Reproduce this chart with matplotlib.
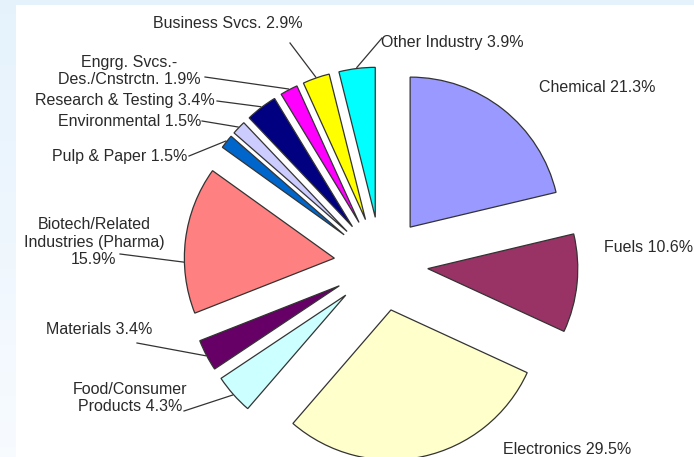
import numpy as np
import matplotlib
matplotlib.use("Agg")
import matplotlib.pyplot as plt
from matplotlib.patches import Rectangle

W, H = 694, 457

# industry shares (%), clockwise from 12 o'clock
sectors = ["Chemical", "Fuels", "Electronics", "Food/Consumer\nProducts", "Materials",
           "Biotech/Related\nIndustries (Pharma)\n", "Pulp & Paper", "Environmental",
           "Research & Testing", "Engrg. Svcs.-\nDes./Cnstrctn.", "Business Svcs.", "Other Industry"]
shares = [21.3, 10.6, 29.5, 4.3, 3.4, 15.9, 1.5, 1.5, 3.4, 1.9, 2.9, 3.9]
colors = ["#9999FF", "#993366", "#FFFFCC", "#CCFFFF", "#660066", "#FF8080",
          "#0066CC", "#CCCCFF", "#000080", "#FF00FF", "#FFFF00", "#00FFFF"]

# label placement in pixels (x, y from top); leader start or None
label_pos = [(597, 87), (649, 248), (567, 450), (130, 398), (99, 330), (94, 242),
             (120, 157), (130, 121), (125, 100), (129, 71), (228, 23), (452, 43)]
leader_from = [None, None, None, (184, 411), (137, 343), (120, 254),
               (189, 156), (202, 121), (217, 101), (205, 77), (290, 43), (382, 38)]
# where along the wedge's arc the leader lands (0..1 between theta1 and theta2)
leader_at = [0.5, 0.5, 0.5, 0.5, 0.5, 0.65, 0.5, 0.5, 0.5, 0.5, 0.5, 0.5]

plt.rcParams["font.family"] = ["Liberation Sans", "DejaVu Sans"]

fig = plt.figure(figsize=(W / 100, H / 100), dpi=100)

# pale blue backdrop with a white chart area
bg = fig.add_axes([0, 0, 1, 1])
grad = np.linspace(0, 1, 256).reshape(-1, 1)
c_top = np.array([0.90, 0.95, 0.99])
c_bot = np.array([0.97, 0.985, 1.0])
img = c_top[None, None, :] * (1 - grad[:, :, None]) + c_bot[None, None, :] * grad[:, :, None]
bg.imshow(img, aspect="auto", extent=[0, 1, 0, 1])
bg.add_patch(Rectangle((16 / W, 0), 1 - 16 / W, (H - 5) / H, facecolor="white",
                       edgecolor="none"))
bg.set_xlim(0, 1)
bg.set_ylim(0, 1)
bg.axis("off")

ax = fig.add_axes([0, 0, 1, 1])
ax.patch.set_alpha(0)
R = 150
# explode is an absolute offset in data units here
wedges, _ = ax.pie(shares, colors=colors, explode=[47] * len(shares),
                   startangle=90, counterclock=False, center=(381, H - 264), radius=R,
                   wedgeprops=dict(edgecolor="#333333", linewidth=0.9), frame=False)
ax.set_xlim(0, W)
ax.set_ylim(0, H)
ax.set_aspect("auto")
ax.axis("off")

for w, name, val, pos, src, frac in zip(wedges, sectors, shares, label_pos,
                                        leader_from, leader_at):
    if name.endswith("\n"):
        txt = f"{name}{val}%"
    else:
        txt = f"{name} {val}%"
    ax.text(pos[0], H - pos[1], txt, ha="center", va="center", fontsize=11.5,
            color="#2a2a2a", linespacing=1.2, multialignment="center")
    if src is not None:
        ang = np.deg2rad(w.theta1 + frac * (w.theta2 - w.theta1))
        ex = w.center[0] + (w.r + 1) * np.cos(ang)
        ey = w.center[1] + (w.r + 1) * np.sin(ang)
        ax.plot([src[0], ex], [H - src[1], ey], color="#333333", lw=0.9)

fig.savefig("out.png", dpi=100)
